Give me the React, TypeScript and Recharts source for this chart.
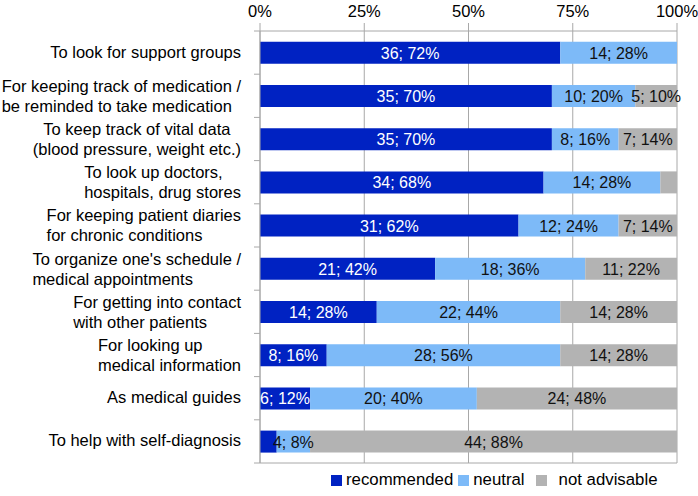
import React from 'react';
import { BarChart, Bar, XAxis, YAxis, CartesianGrid, Legend, LabelList } from 'recharts';

const CATEGORIES: string[][] = [
  ['To look for support groups'],
  ['For keeping track of medication /', 'be reminded to take medication'],
  ['To keep track of vital data', '(blood pressure, weight etc.)'],
  ['To look up doctors,', 'hospitals, drug stores'],
  ['For keeping patient diaries', 'for chronic conditions'],
  ["To organize one's schedule /", 'medical appointments'],
  ['For getting into contact', 'with other patients'],
  ['For looking up', 'medical information'],
  ['As medical guides'],
  ['To help with self-diagnosis'],
];
// line alignment inside each wrapped label block
const LABEL_ALIGN = ['left', 'left', 'center', 'left', 'left', 'left', 'left', 'left', 'left', 'left'];

const REC_N = [36, 35, 35, 34, 31, 21, 14, 8, 6, 2];
const NEU_N = [14, 10, 8, 14, 12, 18, 22, 28, 20, 4];
const NOT_N = [0, 5, 7, 2, 7, 11, 14, 14, 24, 44];

const REC_P = [72, 70, 70, 68, 62, 42, 28, 16, 12, 4];
const NEU_P = [28, 20, 16, 28, 24, 36, 44, 56, 40, 8];
const NOT_P = [0, 10, 14, 4, 14, 22, 28, 28, 48, 88];

const X_TICKS = [0, 25, 50, 75, 100];

const SERIES = [
  { key: 'rec', name: 'recommended', color: '#0022C2', text: '#FFFFFF' },
  { key: 'neu', name: 'neutral', color: '#7DBAF8', text: '#111111' },
  { key: 'not', name: 'not advisable', color: '#B3B3B3', text: '#111111' },
];

const lbl = (n: number, p: number) => (n > 2 ? `${n}; ${p}%` : '');

const data = CATEGORIES.map((lines, i) => ({
  name: lines.join('\n'),
  rec: REC_P[i],
  neu: NEU_P[i],
  not: NOT_P[i],
  recLabel: lbl(REC_N[i], REC_P[i]),
  neuLabel: lbl(NEU_N[i], NEU_P[i]),
  notLabel: lbl(NOT_N[i], NOT_P[i]),
}));

const FONT = "'Liberation Sans', Arial, Helvetica, sans-serif";
const AXIS_GRAY = '#A8A8A8';
const CAT_SIZE = 16.5;

let _ctx: CanvasRenderingContext2D | null = null;
function measure(s: string, font: string): number {
  if (!_ctx) {
    const c = document.createElement('canvas');
    _ctx = c.getContext('2d');
  }
  if (!_ctx) return s.length * 8;
  _ctx.font = font;
  return _ctx.measureText(s).width;
}

function CategoryTick(props: any) {
  const { x, y, payload, index, visibleTicksCount } = props;
  const lines: string[] = String(payload.value).split('\n');
  const half = payload.offset && payload.offset > 0 ? payload.offset : 21.6;
  const f = `${CAT_SIZE}px 'Liberation Sans'`;
  const widths = lines.map((l) => measure(l, f));
  const blockW = Math.max(...widths);
  const left = x - blockW;
  const isLast = index === visibleTicksCount - 1;
  const align = LABEL_ALIGN[index] || 'left';
  return (
    <g>
      <line x1={x + 13} x2={x + 19} y1={y - half} y2={y - half} stroke={AXIS_GRAY} />
      {isLast && <line x1={x + 13} x2={x + 19} y1={y + half} y2={y + half} stroke={AXIS_GRAY} />}
      {lines.length === 1 ? (
        <text x={x} y={y + 5} textAnchor="end" fontSize={CAT_SIZE} fontFamily={FONT} fill="#000">
          {lines[0]}
        </text>
      ) : (
        lines.map((l, i) => (
          <text
            key={i}
            x={align === 'center' ? left + (blockW - widths[i]) / 2 : left}
            y={y - 4 + i * 20}
            textAnchor="start"
            fontSize={CAT_SIZE}
            fontFamily={FONT}
            fill="#000"
          >
            {l}
          </text>
        ))
      )}
    </g>
  );
}

const makeLabel = (color: string) => (p: any) => {
  const { x, y, width, height, value } = p;
  if (!value) return null;
  return (
    <text
      x={Number(x) + Number(width) / 2}
      y={Number(y) + Number(height) / 2}
      dy="0.38em"
      textAnchor="middle"
      fill={color}
      fontSize={16}
      fontFamily={FONT}
    >
      {value}
    </text>
  );
};

function LegendContent() {
  return (
    <div
      style={{
        height: 33,
        display: 'flex',
        alignItems: 'center',
        paddingLeft: 331,
        paddingTop: 1,
        boxSizing: 'border-box',
        fontFamily: FONT,
        fontSize: 16.8,
        color: '#000',
        whiteSpace: 'nowrap',
      }}
    >
      {SERIES.map((s, i) => (
        <div key={s.key} style={{ display: 'flex', alignItems: 'center', marginRight: i === 0 ? 5 : i === 1 ? 11 : 0 }}>
          <span style={{ display: 'inline-block', width: 11, height: 11, background: s.color, marginRight: i === 2 ? 12 : 4 }} />
          <span>{s.name}</span>
        </div>
      ))}
    </div>
  );
}

export default function App() {
  return (
    <div style={{ position: 'absolute', left: 0, top: 0, width: 698, height: 496, background: '#fff' }}>
      <BarChart
        width={698}
        height={496}
        data={data}
        layout="vertical"
        margin={{ top: 0, right: 21, left: 0, bottom: 0 }}
        barCategoryGap="25%"
      >
        <CartesianGrid
          horizontal={true}
          vertical={true}
          stroke={AXIS_GRAY}
          horizontalCoordinatesGenerator={(p: any) => [p.offset.top + p.offset.height]}
        />
        <XAxis
          type="number"
          orientation="top"
          domain={[0, 100]}
          ticks={X_TICKS}
          tickFormatter={(v: number) => `${v}%`}
          height={31}
          tickSize={8}
          tickMargin={6}
          axisLine={{ stroke: AXIS_GRAY }}
          tickLine={{ stroke: AXIS_GRAY }}
          tick={{ fill: '#000', fontSize: 16.5, fontFamily: FONT }}
          interval={0}
        />
        <YAxis
          type="category"
          dataKey="name"
          width={260}
          tickSize={0}
          tickMargin={19}
          tickLine={false}
          axisLine={{ stroke: AXIS_GRAY }}
          tick={<CategoryTick />}
          interval={0}
        />
        <Legend verticalAlign="bottom" content={<LegendContent />} wrapperStyle={{ left: 0, width: 698 }} />
        {SERIES.map((s) => (
          <Bar key={s.key} dataKey={s.key} name={s.name} stackId="a" fill={s.color} isAnimationActive={false}>
            <LabelList dataKey={`${s.key}Label`} content={makeLabel(s.text)} />
          </Bar>
        ))}
      </BarChart>
    </div>
  );
}
